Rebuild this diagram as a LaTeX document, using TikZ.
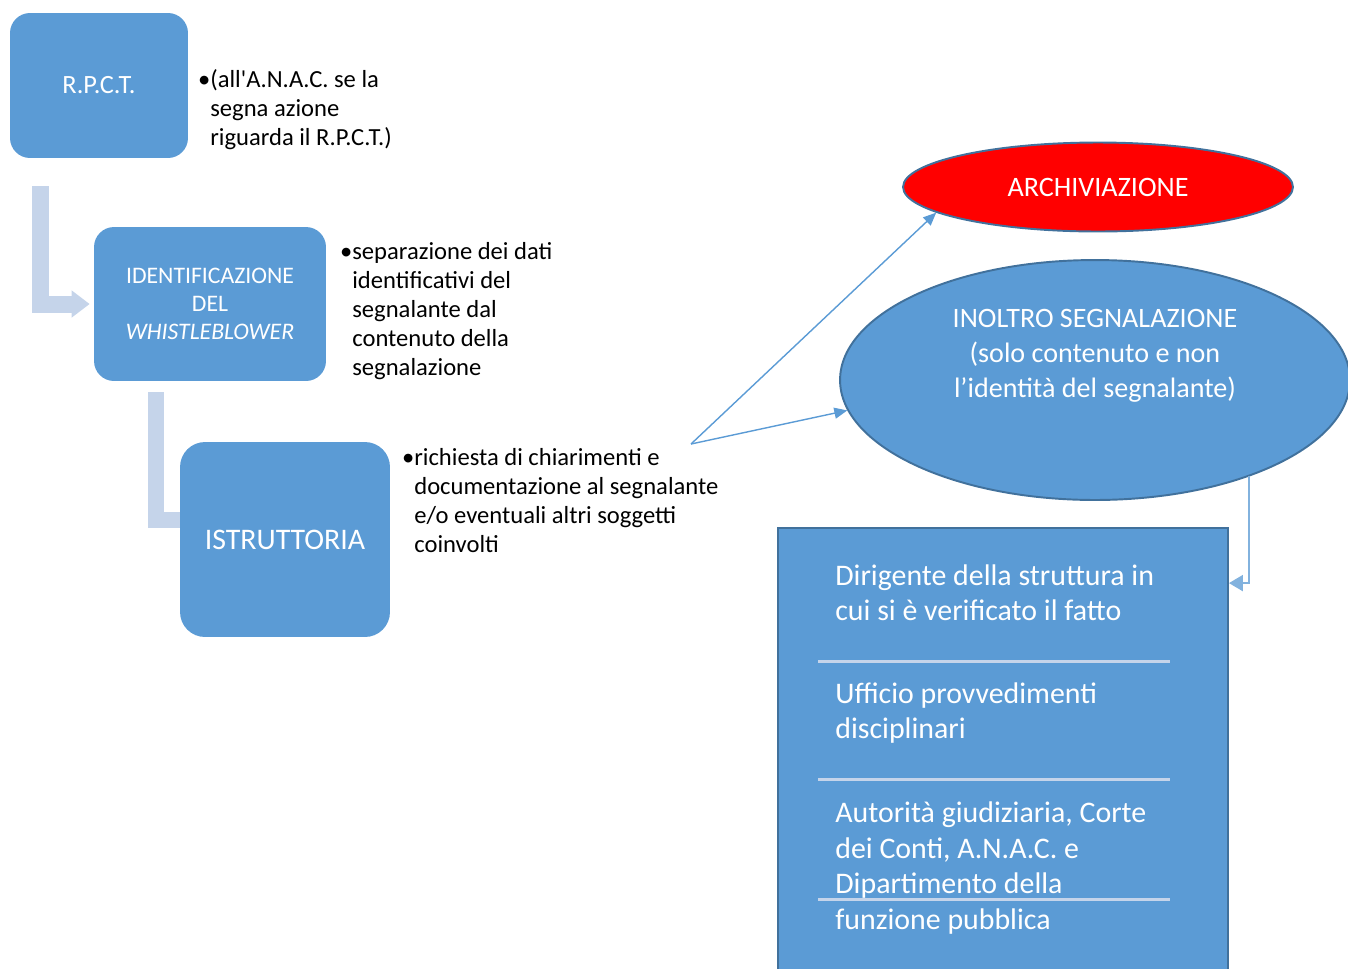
\documentclass[tikz,border=0pt]{standalone}
\usepackage{fontspec}
\setmainfont{Carlito}
\usetikzlibrary{calc,positioning,arrows.meta,shapes.geometric}
\definecolor{fillc}{RGB}{91,155,213}
\definecolor{edgec}{RGB}{65,113,156}
\definecolor{palec}{RGB}{197,212,234}
\definecolor{elbowc}{RGB}{130,178,222}
\tikzset{
  stage/.style={rectangle,rounded corners=0.4cm,fill=fillc,text=white,align=center,inner sep=2pt},
  note/.style={align=left,anchor=west,inner sep=0pt,font=\fontsize{14}{16.5}\selectfont},
  oval/.style={ellipse,draw=edgec,line width=1.1pt,text=white,align=center,inner sep=0pt,font=\fontsize{16}{19.9}\selectfont},
  ovaltext/.style={text=white,align=center,inner sep=0pt,font=\fontsize{16}{19.9}\selectfont},
  boxtext/.style={text=white,align=left,anchor=west,inner sep=0pt,font=\fontsize{17}{20.2}\selectfont},
  bendbar/.style={palec,line join=miter},
  link/.style={-{Triangle[length=2.6mm,width=2.2mm]},fillc,line width=0.8pt},
  elbow/.style={-{Triangle[length=2.8mm,width=3.2mm]},elbowc,line width=1.2pt},
  sepline/.style={palec,line width=1.7pt},
}
\begin{document}
\begin{tikzpicture}[x=0.02cm,y=-0.02cm]
  \useasboundingbox (0,0) rectangle (1348,968);
  \node[stage,minimum width=3.56cm,minimum height=2.9cm,font=\fontsize{15}{18}\selectfont] (rpct) at (99,85.5) {R.P.C.T.};
  \node[note] (n1) at (210,110) {\llap{•}(all\textquotesingle A.N.A.C. se la\\segna azione\\riguarda il R.P.C.T.)};
  \node[stage,minimum width=4.64cm,minimum height=3.08cm,font=\fontsize{13.5}{15.9}\selectfont] (ident) at (210,304) {IDENTIFICAZIONE\\DEL\\\textit{WHISTLEBLOWER}};
  \node[note] (n2) at (352,311) {\llap{•}separazione dei dati\\identificativi del\\segnalante dal\\contenuto della\\segnalazione};
  \node[stage,rounded corners=0.5cm,minimum width=4.2cm,minimum height=3.9cm,font=\fontsize{17}{20}\selectfont] (istr) at (285,539.5) {ISTRUTTORIA};
  \node[note] (n3) at (414,501) {\llap{•}richiesta di chiarimenti e\\documentazione al segnalante\\e/o eventuali altri soggetti\\coinvolti};
  \draw[bendbar,line width=0.34cm,-{Triangle[length=0.36cm,width=0.52cm]}] (40.5,186) |- ($(ident.west)+(-4,0)$);
  \draw[bendbar,line width=0.32cm] (156,392) |- ($(istr.west)+(0,-20)$);
  \node[oval,fill=red,minimum width=7.8cm,minimum height=1.78cm] (arch) at (1098,187) {ARCHIVIAZIONE};
  \node[oval,fill=fillc,minimum width=10.2cm,minimum height=4.8cm] (inol) at (1095,380) {};
  \node[ovaltext] (inoltxt) at (1095,356) {INOLTRO SEGNALAZIONE\\(solo contenuto e non\\l’identità del segnalante)};
  \node[rectangle,draw=edgec,fill=fillc,line width=1.1pt,minimum width=9cm,minimum height=9.44cm] (dest) at (1003,764) {};
  \foreach \y in {661.5,779.5,899.5}
    \draw[sepline] (818,\y) -- (1170,\y);
  \node[boxtext] (d1) at (835,592.5) {Dirigente della struttura in\\cui si è verificato il fatto};
  \node[boxtext] (d2) at (835,713) {Ufficio provvedimenti\\disciplinari};
  \node[boxtext] (d3) at (835,868) {Autorità giudiziaria, Corte\\dei Conti, A.N.A.C. e\\Dipartimento della\\funzione pubblica};
  \coordinate (src) at (691,444);
  \draw[link] (src) -- (arch.189);
  \draw[link] (src) -- (inol.187);
  \draw[elbow] (inol.-32) |- ($(dest.north east)+(0,56)$);
\end{tikzpicture}
\end{document}
